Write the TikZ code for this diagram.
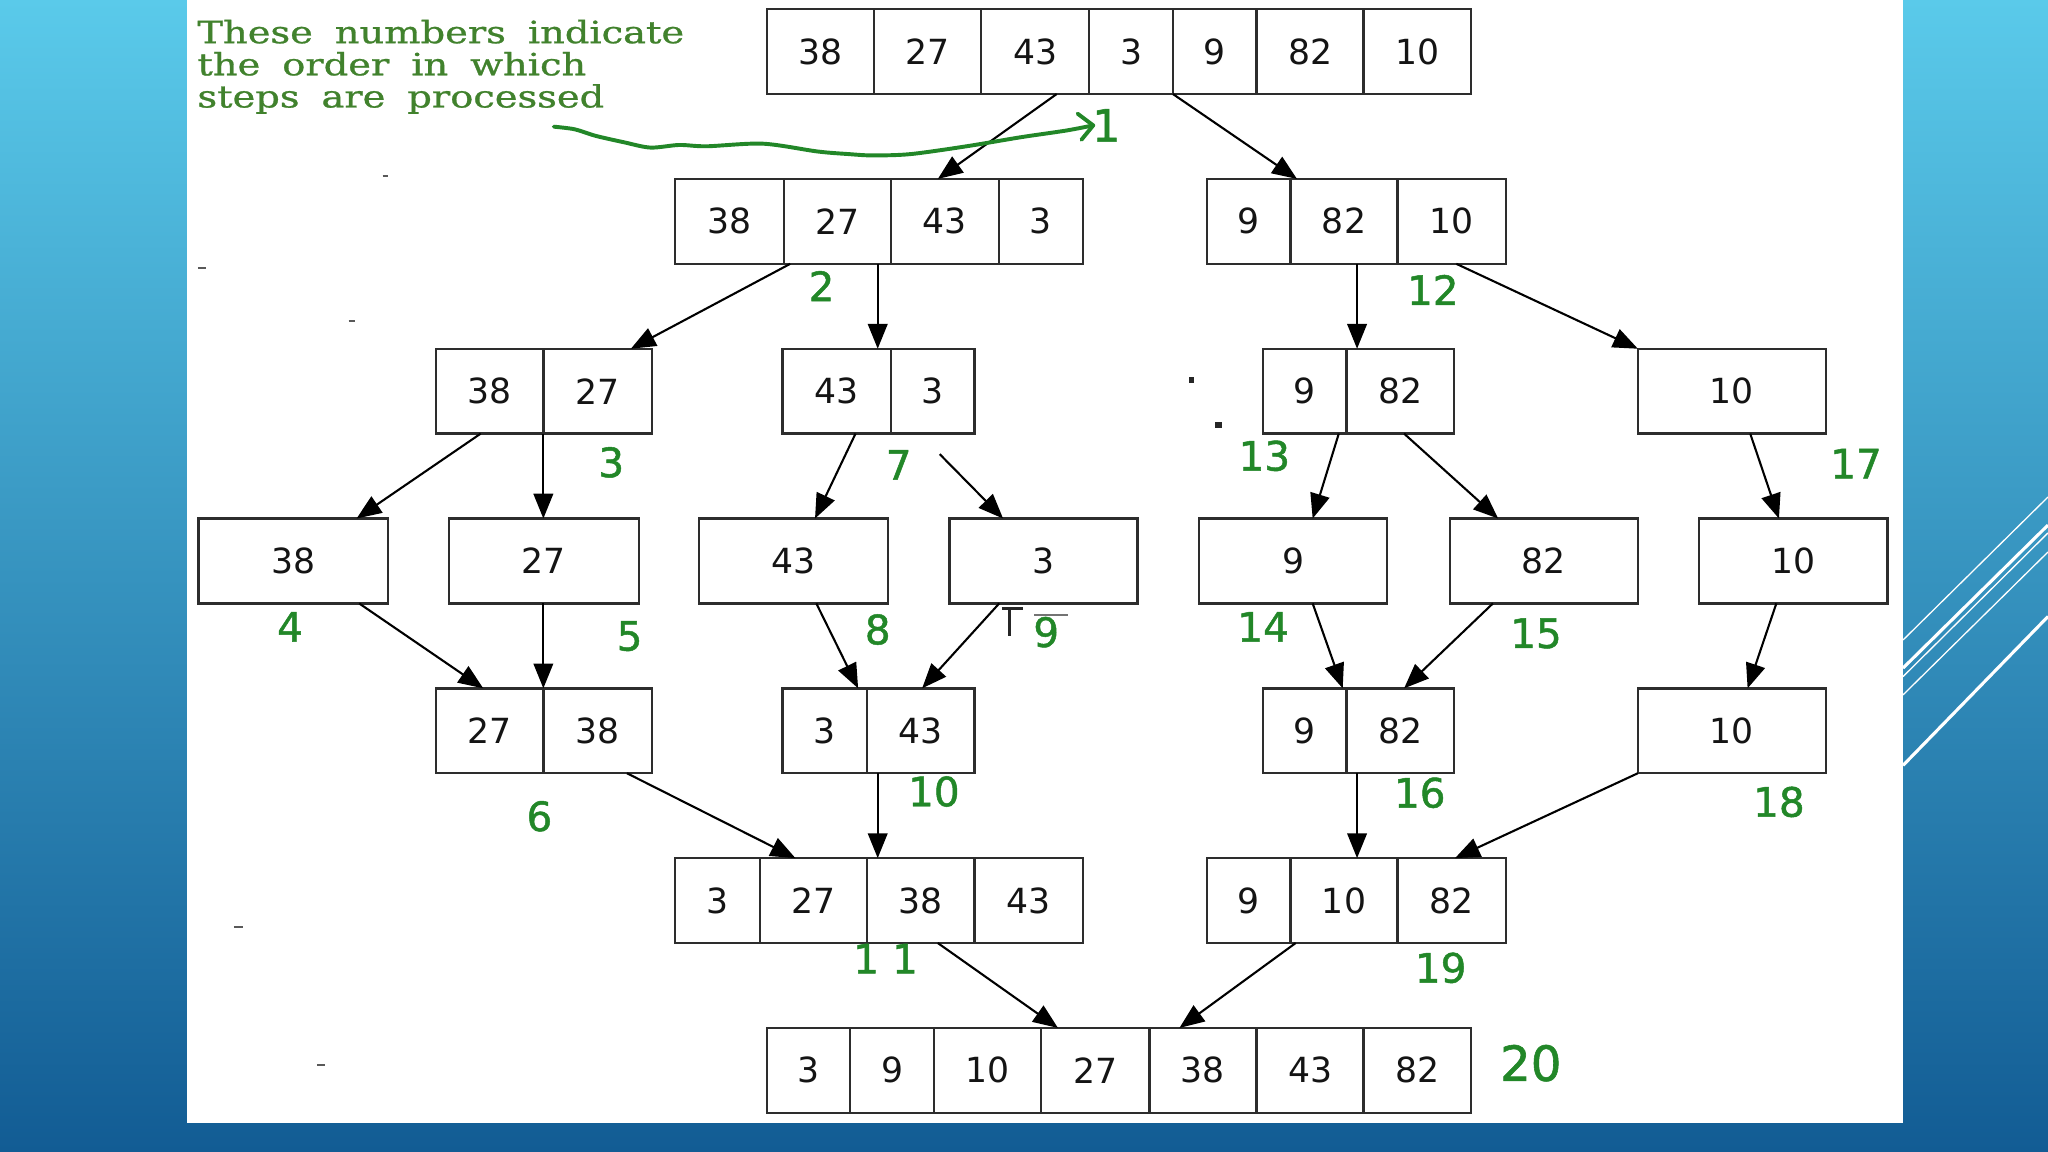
\documentclass[tikz,border=0pt]{standalone}
\usepackage{fontspec}
\usepackage{graphicx}
\usetikzlibrary{arrows.meta}
\newfontfamily\boxfont{DejaVu Sans}
\newfontfamily\lblfont[FakeBold=1.2]{DejaVu Sans}
\newfontfamily\notefont[WordSpace=1.8,FakeBold=0.8]{DejaVu Serif}
\definecolor{lblgreen}{RGB}{34,135,40}
\definecolor{notegreen}{RGB}{65,130,45}
\definecolor{bgtop}{RGB}{90,202,234}
\definecolor{bgmid}{RGB}{50,148,200}
\definecolor{bgbot}{RGB}{18,92,148}
\definecolor{boxline}{RGB}{45,45,45}
\tikzset{
  cellst/.style={draw=boxline, line width=1.8pt, fill=white, inner sep=0pt, outer sep=0pt,
    minimum height=65pt, font=\boxfont\fontsize{26.5}{30}\selectfont, text=black!92},
  conn/.style={draw=black, line width=1.6pt, -{Triangle[length=19pt,width=15pt]}},
  lbl/.style={text=lblgreen, font=\lblfont\fontsize{31}{36}\selectfont, inner sep=0pt},
  deco/.style={draw=white, line cap=butt},
  speck/.style={draw=black!65, line width=1.6pt},
}
\newcommand\mkcell[5]{\node[cellst, anchor=north west, minimum width={(#3-#2)*1pt}] (#1) at (#2,#4) {#5};}
\begin{document}
\begin{tikzpicture}[x=1pt, y=-1pt]
\useasboundingbox (0,0) rectangle (1568,882);
% background
\shade[top color=bgtop, middle color=bgmid, bottom color=bgbot] (0,0) rectangle (1568,882);
\draw[deco, line width=1pt] (1457,490) -- (1568,380.5);
\draw[deco, line width=2.4pt] (1457,511.5) -- (1568,402);
\draw[deco, line width=1pt] (1457,518) -- (1568,408);
\draw[deco, line width=1pt] (1457,532) -- (1568,422.6);
\draw[deco, line width=2.4pt] (1457,586) -- (1568,472);
\fill[white] (143,0) rectangle (1457,860);
% note
\node[anchor=north west, inner sep=0pt, text=notegreen] (note) at (151,15)
  {\scalebox{1.25}[1]{\notefont\fontsize{23.5}{22.5}\selectfont
   \begin{tabular}{@{}l@{}}These numbers indicate\\ the order in which\\ steps are processed\end{tabular}}};
% row 1
\mkcell{t1}{587}{669}{7}{38}\mkcell{t2}{669}{751}{7}{27}\mkcell{t3}{751}{834}{7}{43}
\mkcell{t4}{834}{898}{7}{3}\mkcell{t5}{898}{962}{7}{9}\mkcell{t6}{962}{1044}{7}{82}
\mkcell{t7}{1044}{1126}{7}{10}
% row 2
\mkcell{a1}{517}{600}{137}{38}\mkcell{a2}{600}{682}{137}{27}\mkcell{a3}{682}{765}{137}{43}
\mkcell{a4}{765}{829}{137}{3}
\mkcell{b1}{924}{988}{137}{9}\mkcell{b2}{988}{1070}{137}{82}\mkcell{b3}{1070}{1153}{137}{10}
% row 3
\mkcell{c1}{334}{416}{267}{38}\mkcell{c2}{416}{499}{267}{27}
\mkcell{d1}{599}{682}{267}{43}\mkcell{d2}{682}{746}{267}{3}
\mkcell{e1}{967}{1031}{267}{9}\mkcell{e2}{1031}{1113}{267}{82}
\mkcell{f1}{1254}{1398}{267}{10}
% row 4
\mkcell{g1}{152}{297}{397}{38}\mkcell{g2}{344}{489}{397}{27}\mkcell{g3}{535}{680}{397}{43}
\mkcell{g4}{727}{871}{397}{3}\mkcell{g5}{918}{1062}{397}{9}\mkcell{g6}{1110}{1254}{397}{82}
\mkcell{g7}{1301}{1445}{397}{10}
% row 5
\mkcell{h1}{334}{416}{527}{27}\mkcell{h2}{416}{499}{527}{38}
\mkcell{i1}{599}{664}{527}{3}\mkcell{i2}{664}{746}{527}{43}
\mkcell{j1}{967}{1031}{527}{9}\mkcell{j2}{1031}{1113}{527}{82}
\mkcell{k1}{1254}{1398}{527}{10}
% row 6
\mkcell{m1}{517}{582}{657}{3}\mkcell{m2}{582}{664}{657}{27}\mkcell{m3}{664}{746}{657}{38}
\mkcell{m4}{746}{829}{657}{43}
\mkcell{n1}{924}{988}{657}{9}\mkcell{n2}{988}{1070}{657}{10}\mkcell{n3}{1070}{1153}{657}{82}
% row 7
\mkcell{p1}{587}{651}{787}{3}\mkcell{p2}{651}{715}{787}{9}\mkcell{p3}{715}{797}{787}{10}
\mkcell{p4}{797}{880}{787}{27}\mkcell{p5}{880}{962}{787}{38}\mkcell{p6}{962}{1044}{787}{43}
\mkcell{p7}{1044}{1126}{787}{82}
% connectors
\draw[conn] ([xshift=58pt]t3.south west) -- ([xshift=36pt]a3.north west);
\draw[conn] (t5.south west) -- ([xshift=5pt]b2.north west);
\draw[conn] ([xshift=5pt]a2.south west) -- ([xshift=67pt]c2.north west);
\draw[conn] ([xshift=72pt]a2.south west) -- ([xshift=73pt]d1.north west);
\draw[conn] ([xshift=51pt]b2.south west) -- ([xshift=8pt]e2.north west);
\draw[conn] ([xshift=45pt]b3.south west) -- (f1.north west);
\draw[conn] ([xshift=34pt]c1.south west) -- ([xshift=121pt]g1.north west);
\draw[conn] (c2.south west) -- ([xshift=72pt]g2.north west);
\draw[conn] ([xshift=56pt]d1.south west) -- ([xshift=89pt]g3.north west);
\draw[conn, shorten <=22pt] ([xshift=22pt]d2.south west) -- ([xshift=41pt]g4.north west);
\draw[conn] ([xshift=58pt]e1.south west) -- ([xshift=87pt]g5.north west);
\draw[conn] ([xshift=44pt]e2.south west) -- ([xshift=37pt]g6.north west);
\draw[conn] ([xshift=86pt]f1.south west) -- ([xshift=61pt]g7.north west);
\draw[conn] ([xshift=123pt]g1.south west) -- ([xshift=36pt]h1.north west);
\draw[conn] ([xshift=72pt]g2.south west) -- (h2.north west);
\draw[conn] ([xshift=90pt]g3.south west) -- ([xshift=58pt]i1.north west);
\draw[conn] ([xshift=38pt]g4.south west) -- ([xshift=42pt]i2.north west);
\draw[conn] ([xshift=87pt]g5.south west) -- ([xshift=61pt]j1.north west);
\draw[conn] ([xshift=33pt]g6.south west) -- ([xshift=44pt]j2.north west);
\draw[conn] ([xshift=59pt]g7.south west) -- ([xshift=84pt]k1.north west);
\draw[conn] ([xshift=64pt]h2.south west) -- ([xshift=27pt]m2.north west);
\draw[conn] ([xshift=8pt]i2.south west) -- ([xshift=8pt]m3.north west);
\draw[conn] ([xshift=8pt]j2.south west) -- ([xshift=51pt]n2.north west);
\draw[conn] (k1.south west) -- ([xshift=44pt]n3.north west);
\draw[conn] ([xshift=54pt]m3.south west) -- ([xshift=13pt]p4.north west);
\draw[conn] ([xshift=4pt]n2.south west) -- ([xshift=23pt]p5.north west);
% hand-drawn green arrow
\coordinate (hs) at (424,97);
\coordinate (he) at (837,96);
\draw[lblgreen, line width=3pt, line cap=round, line join=round]
  plot[smooth] coordinates {(hs) (440,99) (456,104) (478,109) (498,113) (520,111) (541,112) (584,110) (626,116) (650,118) (668,119) (697,118) (740,112) (782,105) (816,100) (he)};
\draw[lblgreen, line width=3pt, line cap=round, line join=round] (825,87) -- (he) -- (828,107);
% green step labels
\node[lbl, font=\lblfont\fontsize{34}{38}\selectfont] (l1) at (847,96) {1};
\node[lbl] (l2) at (629,219) {2};
\node[lbl] (l12) at (1097,222) {12};
\node[lbl] (l3) at (468,354) {3};
\node[lbl] (l7) at (688,356) {7};
\node[lbl] (l13) at (968,349) {13};
\node[lbl] (l17) at (1421,355) {17};
\node[lbl] (l4) at (222,480) {4};
\node[lbl] (l5) at (482,487) {5};
\node[lbl] (l8) at (672,482) {8};
\node[lbl] (l9) at (801,484) {9};
\node[lbl] (l14) at (967,480) {14};
\node[lbl] (l15) at (1176,485) {15};
\node[lbl] (l6) at (413,625) {6};
\node[lbl] (l10) at (715,606) {10};
\node[lbl] (l16) at (1087,607) {16};
\node[lbl] (l18) at (1362,614) {18};
\node[lbl] (l11) at (678,734) {1\hspace{10pt}1};
\node[lbl] (l19) at (1103,741) {19};
\node[lbl, font=\lblfont\fontsize{37}{40}\selectfont] (l20) at (1172,814) {20};
% stray marks
\draw[line width=2.6pt, black!85] (767,466) -- (783,466);
\draw[line width=2.6pt, black!85] (773,466) -- (773,487);
\draw[line width=1.2pt, black!55] (792,471) -- (818,471);
\fill[black!85] (910,289) rectangle (914.5,293.5);
\fill[black!85] (930.5,323) rectangle (935.5,327.5);
\draw[speck] (151.5,205) -- (158,205);
\draw[speck] (293,135) -- (297,135);
\draw[speck] (267,246) -- (272,246);
\draw[speck] (179,710) -- (186,710);
\draw[speck] (243,815.5) -- (249,815.5);
\end{tikzpicture}
\end{document}
